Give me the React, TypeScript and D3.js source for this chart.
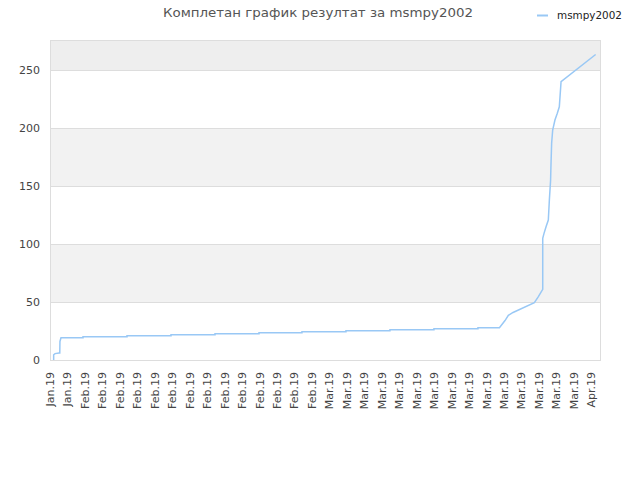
import React from "react";
import * as d3 from "d3";

const title = "Комплетан график резултат за msmpy2002";
const seriesName = "msmpy2002";

const tickLabels = [
  "Jan.19", "Jan.19",
  "Feb.19", "Feb.19", "Feb.19", "Feb.19", "Feb.19", "Feb.19", "Feb.19",
  "Feb.19", "Feb.19", "Feb.19", "Feb.19", "Feb.19", "Feb.19", "Feb.19",
  "Mar.19", "Mar.19", "Mar.19", "Mar.19", "Mar.19", "Mar.19", "Mar.19", "Mar.19",
  "Mar.19", "Mar.19", "Mar.19", "Mar.19", "Mar.19", "Mar.19", "Mar.19",
  "Apr.19",
];

const yTicks = [0, 50, 100, 150, 200, 250];

// position along the time axis, in tick-label units
const times = [
  0.21, 0.21, 0.29, 0.52, 0.56, 0.57, 0.63,
  1.89, 1.89, 4.41, 4.41, 6.93, 6.93, 9.45, 9.45, 11.97, 11.97,
  14.43, 14.43, 16.95, 16.95, 19.47, 19.47, 21.99, 21.99, 24.51, 24.51,
  25.74, 26.06, 26.25, 26.52, 27.74, 27.97, 28.22, 28.22,
  28.29, 28.41, 28.54, 28.6, 28.67, 28.69, 28.73, 28.79,
  28.92, 29.05, 29.17, 29.27, 31.25,
];
const scores = [
  0, 4.5, 5.5, 6, 6, 16, 19.2,
  19.2, 20.1, 20.1, 21.0, 21.0, 21.8, 21.8, 22.7, 22.7, 23.5,
  23.5, 24.4, 24.4, 25.3, 25.3, 26.1, 26.1, 27.0, 27.0, 27.8,
  27.8, 34, 38.5, 41, 49.4, 54.6, 61, 105,
  109, 115, 120.7, 138, 155, 167, 187, 198.3,
  207, 212.6, 218.4, 240, 263.5,
];

const W = 640;
const H = 480;
const left = 50, right = 600, top = 40, bottom = 360;

export default function App() {
  const x = d3.scaleLinear().domain([0, 31.5]).range([left, right]);
  const y = d3.scaleLinear().domain([0, 276]).range([bottom, top]);
  const pts: [number, number][] = times.map((t, i) => [t, scores[i]]);
  const line = d3
    .line<[number, number]>()
    .x((d) => x(d[0]))
    .y((d) => y(d[1]));

  const bands: { from: number; to: number; fill: string }[] = [
    { from: 50, to: 100, fill: "#f2f2f2" },
    { from: 150, to: 200, fill: "#f2f2f2" },
    { from: 250, to: 276, fill: "#eeeeee" },
  ];

  const font = "'DejaVu Sans', sans-serif";

  return (
    <svg
      width={W}
      height={H}
      style={{ position: "absolute", left: 0, top: 0, background: "#fff" }}
      fontFamily={font}
    >
      <rect x={0} y={0} width={W} height={H} fill="#fff" />
      <text
        x={318}
        y={17}
        textAnchor="middle"
        fontSize={13}
        fill="#555"
        textLength={310}
        lengthAdjust="spacingAndGlyphs"
      >
        {title}
      </text>
      <line x1={537} x2={548} y1={15.5} y2={15.5} stroke="#99c8f5" strokeWidth={2} />
      <text x={557} y={19} fontSize={11} fill="#222" textLength={65} lengthAdjust="spacingAndGlyphs">
        {seriesName}
      </text>

      {bands.map((b, i) => (
        <rect
          key={i}
          x={left}
          width={right - left}
          y={y(b.to)}
          height={y(b.from) - y(b.to)}
          fill={b.fill}
        />
      ))}
      {yTicks.map((v) => (
        <g key={v}>
          {v > 0 && (
            <line x1={left} x2={right} y1={Math.round(y(v)) + 0.5} y2={Math.round(y(v)) + 0.5} stroke="#dddddd" />
          )}
          <text x={40} y={y(v) + 4} textAnchor="end" fontSize={11} fill="#444">
            {v}
          </text>
        </g>
      ))}
      <rect
        x={left + 0.5}
        y={top + 0.5}
        width={right - left}
        height={bottom - top}
        fill="none"
        stroke="#dddddd"
      />
      <path d={line(pts) || ""} fill="none" stroke="#99c8f5" strokeWidth={1.5} />
      {tickLabels.map((lab, i) => (
        <text
          key={i}
          transform={`translate(${x(i) + 4},372) rotate(-90)`}
          textAnchor="end"
          fontSize={11}
          fill="#444"
        >
          {lab}
        </text>
      ))}
    </svg>
  );
}
